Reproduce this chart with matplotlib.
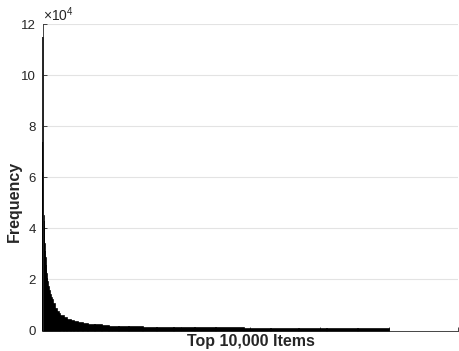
import matplotlib
matplotlib.use("Agg")
import matplotlib.pyplot as plt
import numpy as np

plt.rcParams['font.family'] = ['Liberation Sans', 'DejaVu Sans']
plt.rcParams['mathtext.default'] = 'regular'

# item ranks where each frequency level starts, and the frequency at that rank
rank_start = [1, 2, 3, 4, 5, 7, 10, 15, 20, 30, 40, 50, 60, 75, 90, 100,
              115, 130, 150, 175, 200, 225, 250, 300, 350, 400, 450, 500,
              600, 700, 800, 900, 1000, 1150, 1300, 1500, 1700, 1900, 2200,
              2500, 2900, 3300, 3800, 4400, 5000, 5800, 6600, 7400, 8200, 9100]
frequency = [115000, 74000, 62000, 56000, 52000, 48000, 45000, 43000, 41000,
             37000, 34000, 31000, 28500, 25500, 23500, 22000, 20500, 19000,
             17200, 15500, 14000, 12900, 12000, 10200, 8300, 7200, 6300, 5600,
             4800, 4100, 3600, 3200, 2900, 2600, 2300, 2100, 1750, 1550, 1400,
             1250, 1150, 1100, 1000, 900, 820, 760, 700, 650, 600, 560]
n_items = 10000

y_ticks = [0, 2, 4, 6, 8, 10, 12]

starts = np.array(rank_start, dtype=float)
ends = np.append(starts[1:], n_items + 1)

fig = plt.figure(figsize=(4.59, 3.51), dpi=100)
ax = fig.add_axes([0.0937, 0.0584, 0.904, 0.873])

# edges keep the very narrow head bars visible at this size
ax.bar(starts - 0.5, frequency, width=ends - starts, align='edge',
       color='black', edgecolor='black', linewidth=1.2, zorder=2,
       clip_on=False)

ax.set_xlim(0, 12000)
ax.set_ylim(0, 12e4)
ax.set_xticks(np.arange(0, 12001, 2000))
ax.set_xticklabels([])
ax.set_yticks([v * 1e4 for v in y_ticks])
ax.set_yticklabels([str(v) for v in y_ticks])

ax.yaxis.grid(True, color='#e3e3e3', linewidth=0.8, zorder=0)
ax.set_axisbelow(True)

for side in ['top', 'right']:
    ax.spines[side].set_visible(False)
for side in ['left', 'bottom']:
    ax.spines[side].set_color('#262626')
    ax.spines[side].set_linewidth(0.6)

ax.tick_params(direction='in', length=3, width=0.6, colors='#262626',
               labelsize=9.5, pad=5)

ax.text(0.0, 1.0, r'$\times10^{4}$', transform=ax.transAxes, ha='left',
        va='bottom', fontsize=10, color='#262626')

ax.set_xlabel('Top 10,000 Items', fontsize=11.5, fontweight='bold',
              color='#262626')
ax.xaxis.set_label_coords(0.5, -0.01)
ax.set_ylabel('Frequency', fontsize=11.5, fontweight='bold',
              color='#262626')
ax.yaxis.set_label_coords(-0.052, 0.42)

fig.savefig('out.png', dpi=100)
